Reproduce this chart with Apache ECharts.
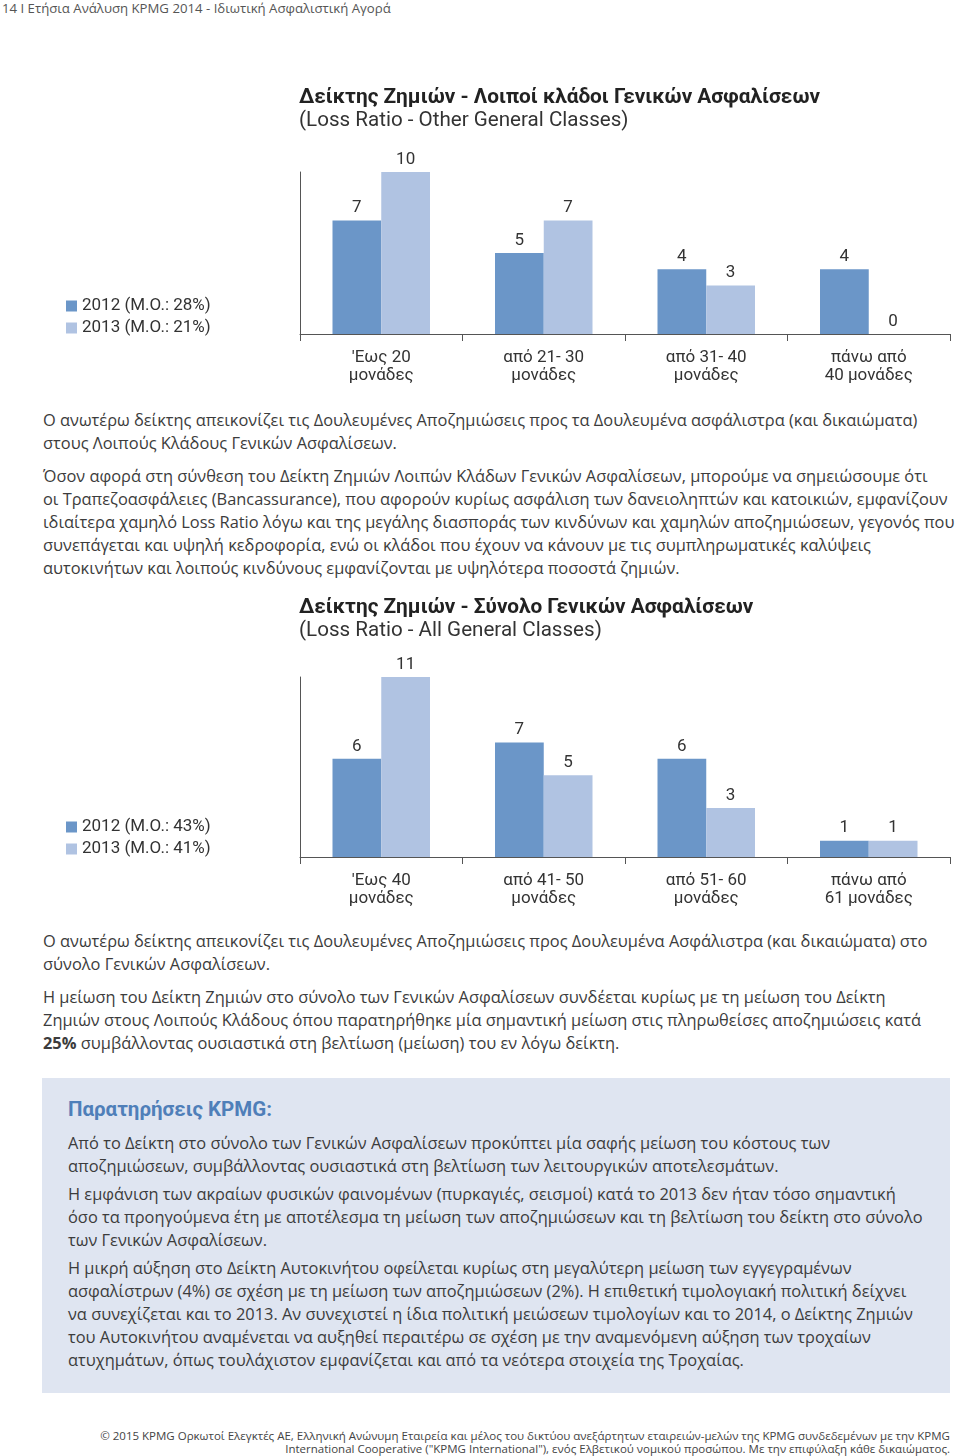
<!DOCTYPE html>
<html>
<head>
<meta charset="utf-8">
<script src="https://cdn.jsdelivr.net/npm/echarts@6/dist/echarts.min.js"></script>
<style>
  html, body { margin:0; padding:0; background:#fff; }
  body { width:960px; height:1456px; position:relative; overflow:hidden;
         font-family:"Open Sans","Noto Sans","Liberation Sans",sans-serif; color:#3c3c3c; }
  .abs { position:absolute; }
  .line { white-space:nowrap; height:23px; line-height:23px; font-size:16.4px; }
  .chart { position:absolute; left:0; width:960px; height:320px; }
  .box { position:absolute; left:42px; top:1078px; width:908px; height:315px; background:#dfe5f1; }
  .boxtitle { position:absolute; left:26px; top:18px; font-family:"Roboto",sans-serif;
              font-weight:bold; font-size:20.5px; color:#4f7fb9; line-height:26px; white-space:nowrap; }
  .foot { position:absolute; right:10px; top:1429px; text-align:right; font-size:11.5px; line-height:13px; color:#444; white-space:nowrap; }
</style>
</head>
<body>
<div class="abs" style="left:2px;top:0;font-size:13.2px;line-height:17px;color:#555;white-space:nowrap;">14 I Ετήσια Ανάλυση KPMG 2014 - Ιδιωτική Ασφαλιστική Αγορά</div>

<div id="c1" class="chart" style="top:80px;"></div>

<div class="abs" style="left:43px;top:408px;">
  <div class="line">Ο ανωτέρω δείκτης απεικονίζει τις Δουλευμένες Αποζημιώσεις προς τα Δουλευμένα ασφάλιστρα (και δικαιώματα)</div>
  <div class="line">στους Λοιπούς Κλάδους Γενικών Ασφαλίσεων.</div>
</div>
<div class="abs" style="left:43px;top:464px;">
  <div class="line">Όσον αφορά στη σύνθεση του Δείκτη Ζημιών Λοιπών Κλάδων Γενικών Ασφαλίσεων, μπορούμε να σημειώσουμε ότι</div>
  <div class="line">οι Τραπεζοασφάλειες (Bancassurance), που αφορούν κυρίως ασφάλιση των δανειοληπτών και κατοικιών, εμφανίζουν</div>
  <div class="line">ιδιαίτερα χαμηλό Loss Ratio λόγω και της μεγάλης διασποράς των κινδύνων και χαμηλών αποζημιώσεων, γεγονός που</div>
  <div class="line">συνεπάγεται και υψηλή κεδροφορία, ενώ οι κλάδοι που έχουν να κάνουν με τις συμπληρωματικές καλύψεις</div>
  <div class="line">αυτοκινήτων και λοιπούς κινδύνους εμφανίζονται με υψηλότερα ποσοστά ζημιών.</div>
</div>

<div id="c2" class="chart" style="top:590px;"></div>

<div class="abs" style="left:43px;top:929px;">
  <div class="line">Ο ανωτέρω δείκτης απεικονίζει τις Δουλευμένες Αποζημιώσεις προς Δουλευμένα Ασφάλιστρα (και δικαιώματα) στο</div>
  <div class="line">σύνολο Γενικών Ασφαλίσεων.</div>
</div>
<div class="abs" style="left:43px;top:985px;">
  <div class="line">Η μείωση του Δείκτη Ζημιών στο σύνολο των Γενικών Ασφαλίσεων συνδέεται κυρίως με τη μείωση του Δείκτη</div>
  <div class="line">Ζημιών στους Λοιπούς Κλάδους όπου παρατηρήθηκε μία σημαντική μείωση στις πληρωθείσες αποζημιώσεις κατά</div>
  <div class="line"><b>25%</b> συμβάλλοντας ουσιαστικά στη βελτίωση (μείωση) του εν λόγω δείκτη.</div>
</div>

<div class="box">
  <div class="boxtitle">Παρατηρήσεις KPMG:</div>
  <div class="abs" style="left:26px;top:53px;">
    <div class="line">Από το Δείκτη στο σύνολο των Γενικών Ασφαλίσεων προκύπτει μία σαφής μείωση του κόστους των</div>
    <div class="line">αποζημιώσεων, συμβάλλοντας ουσιαστικά στη βελτίωση των λειτουργικών αποτελεσμάτων.</div>
  </div>
  <div class="abs" style="left:26px;top:104px;">
    <div class="line">Η εμφάνιση των ακραίων φυσικών φαινομένων (πυρκαγιές, σεισμοί) κατά το 2013 δεν ήταν τόσο σημαντική</div>
    <div class="line">όσο τα προηγούμενα έτη με αποτέλεσμα τη μείωση των αποζημιώσεων και τη βελτίωση του δείκτη στο σύνολο</div>
    <div class="line">των Γενικών Ασφαλίσεων.</div>
  </div>
  <div class="abs" style="left:26px;top:178px;">
    <div class="line">Η μικρή αύξηση στο Δείκτη Αυτοκινήτου οφείλεται κυρίως στη μεγαλύτερη μείωση των εγγεγραμένων</div>
    <div class="line">ασφαλίστρων (4%) σε σχέση με τη μείωση των αποζημιώσεων (2%). Η επιθετική τιμολογιακή πολιτική δείχνει</div>
    <div class="line">να συνεχίζεται και το 2013. Αν συνεχιστεί η ίδια πολιτική μειώσεων τιμολογίων και το 2014, ο Δείκτης Ζημιών</div>
    <div class="line">του Αυτοκινήτου αναμένεται να αυξηθεί περαιτέρω σε σχέση με την αναμενόμενη αύξηση των τροχαίων</div>
    <div class="line">ατυχημάτων, όπως τουλάχιστον εμφανίζεται και από τα νεότερα στοιχεία της Τροχαίας.</div>
  </div>
</div>

<div class="foot">© 2015 KPMG Ορκωτοί Ελεγκτές ΑΕ, Ελληνική Ανώνυμη Εταιρεία και μέλος του δικτύου ανεξάρτητων εταιρειών-μελών της KPMG συνδεδεμένων με την KPMG<br>International Cooperative ("KPMG International"), ενός Ελβετικού νομικού προσώπου. Με την επιφύλαξη κάθε δικαιώματος.</div>

<script>
// ---- Data ----
var chart1Title = 'Δείκτης Ζημιών - Λοιποί κλάδοι Γενικών Ασφαλίσεων';
var chart1Sub = '(Loss Ratio - Other General Classes)';
var chart1Categories = ["'Εως 20\nμονάδες", 'από 21- 30\nμονάδες', 'από 31- 40\nμονάδες', 'πάνω από\n40 μονάδες'];
var chart1Series = ['2012 (M.O.: 28%)', '2013 (M.O.: 21%)'];
var chart1Values2012 = [7, 5, 4, 4];
var chart1Values2013 = [10, 7, 3, 0];

var chart2Title = 'Δείκτης Ζημιών - Σύνολο Γενικών Ασφαλίσεων';
var chart2Sub = '(Loss Ratio - All General Classes)';
var chart2Categories = ["'Εως 40\nμονάδες", 'από 41- 50\nμονάδες', 'από 51- 60\nμονάδες', 'πάνω από\n61 μονάδες'];
var chart2Series = ['2012 (M.O.: 43%)', '2013 (M.O.: 41%)'];
var chart2Values2012 = [6, 7, 6, 1];
var chart2Values2013 = [11, 5, 3, 1];

var COND = '"Roboto","Liberation Sans",sans-serif';
var DARK = '#6b96c8', LIGHT = '#b0c3e2';

function build(el, title, sub, cats, names, v1, v2, gridTop, gridBottom, legendTop) {
  var ch = echarts.init(document.getElementById(el), null, {renderer:'canvas'});
  var ymax = Math.max.apply(null, v1.concat(v2));
  var lbl = {show:true, position:'top', distance:4, fontFamily:COND, fontSize:17, color:'#333'};
  ch.setOption({
    animation:false,
    title:[
      {text:title, left:299, top:7, padding:0, textStyle:{fontFamily:COND, fontWeight:'bold', fontSize:20.8, color:'#222'}},
      {text:sub, left:299, top:30, padding:0, textStyle:{fontFamily:COND, fontWeight:'normal', fontSize:20.6, color:'#333'}}
    ],
    legend:{orient:'vertical', left:66, top:legendTop, padding:0, itemGap:4, itemWidth:11, itemHeight:11,
      icon:'rect', data:names, textStyle:{fontFamily:COND, fontSize:17, color:'#333', lineHeight:18}},
    grid:{left:300, right:10, top:gridTop, bottom:gridBottom},
    xAxis:{type:'category', data:cats, boundaryGap:true,
      axisLine:{lineStyle:{color:'#555', width:1}},
      axisTick:{show:true, length:7, lineStyle:{color:'#555'}},
      axisLabel:{margin:15, fontFamily:COND, fontSize:17, lineHeight:18, color:'#333', interval:0}},
    yAxis:{type:'value', min:0, max:ymax, show:true,
      axisLine:{show:true, lineStyle:{color:'#555', width:1}}, axisTick:{show:false},
      axisLabel:{show:false}, splitLine:{show:false}},
    series:[
      {name:names[0], type:'bar', data:v1, barGap:'0%', barCategoryGap:'40%', itemStyle:{color:DARK}, label:lbl},
      {name:names[1], type:'bar', data:v2, barGap:'0%', barCategoryGap:'40%', itemStyle:{color:LIGHT}, label:lbl}
    ]
  });
}
build('c1', chart1Title, chart1Sub, chart1Categories, chart1Series, chart1Values2012, chart1Values2013, 92, 66, 217);
build('c2', chart2Title, chart2Sub, chart2Categories, chart2Series, chart2Values2012, chart2Values2013, 87, 53, 228);
</script>
</body>
</html>
